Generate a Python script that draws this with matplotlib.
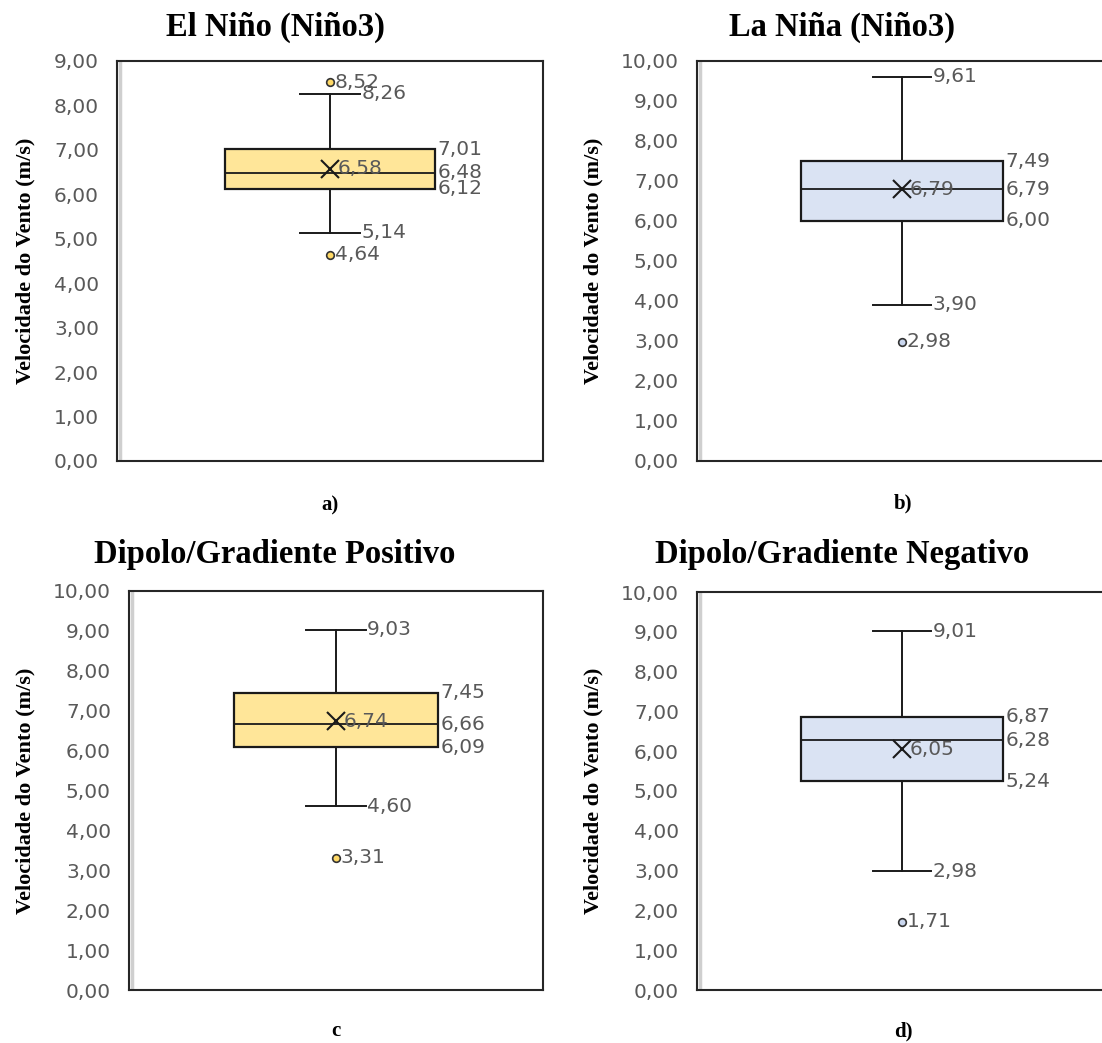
import matplotlib
matplotlib.use("Agg")
import matplotlib.pyplot as plt
from matplotlib.transforms import offset_copy
from matplotlib.ticker import MultipleLocator, FuncFormatter

# Wind-speed statistics (m/s) for each climate regime
titles = ["El Niño (Niño3)", "La Niña (Niño3)",
          "Dipolo/Gradiente Positivo", "Dipolo/Gradiente Negativo"]
panel_tags = ["a)", "b)", "c", "d)"]

whisker_low = [5.14, 3.90, 4.60, 2.98]
quartile_1 = [6.12, 6.00, 6.09, 5.24]
medians = [6.48, 6.79, 6.66, 6.28]
means = [6.58, 6.79, 6.74, 6.05]
quartile_3 = [7.01, 7.49, 7.45, 6.87]
whisker_high = [8.26, 9.61, 9.03, 9.01]
outliers = [[8.52, 4.64], [2.98], [3.31], [1.71]]

y_max = [9, 10, 10, 10]

box_fill = ["#FFE699", "#DAE3F3", "#FFE699", "#DAE3F3"]
flier_fill = ["#FFD966", "#C9D6EE", "#FFD966", "#C9D6EE"]

GREY = "#595959"
W, H = 1102, 1043

# axes rectangles in pixels: left, top, right, bottom
rects_px = [(117, 61, 543, 461), (697, 61, 1107, 461),
            (129, 591, 543, 990), (697, 592, 1107, 990)]
title_px = [(275, 27), (842, 27), (275, 555), (842, 555)]
ylabel_px = [25, 593, 25, 593]
tag_px = [(330, 505), (903, 503), (336, 1031), (903, 1031)]

SERIF = "Liberation Serif"
SANS = "DejaVu Sans"

fig = plt.figure(figsize=(W / 100, H / 100), dpi=100)
fig.patch.set_facecolor("white")


def fmt(v):
    return f"{v:.2f}".replace(".", ",")


box_w = 0.493
cap_w = 0.143

for i in range(4):
    l, t, r, b = rects_px[i]
    ax = fig.add_axes([l / W, 1 - b / H, (r - l) / W, (b - t) / H])
    ax.set_xlim(0, 1)
    ax.set_ylim(0, y_max[i])

    stats = [{
        "whislo": whisker_low[i], "q1": quartile_1[i], "med": medians[i],
        "mean": means[i], "q3": quartile_3[i], "whishi": whisker_high[i],
        "fliers": outliers[i],
    }]
    ax.bxp(stats, positions=[0.5], widths=box_w, capwidths=cap_w,
           patch_artist=True, showmeans=True,
           boxprops=dict(facecolor=box_fill[i], edgecolor="#1a1a1a", linewidth=1.6),
           medianprops=dict(color="#1a1a1a", linewidth=1.3),
           whiskerprops=dict(color="#1a1a1a", linewidth=1.4),
           capprops=dict(color="#1a1a1a", linewidth=1.4),
           meanprops=dict(marker="x", markersize=12.5, markeredgecolor="#1a1a1a",
                          markeredgewidth=1.5),
           flierprops=dict(marker="o", markersize=5.5, markerfacecolor=flier_fill[i],
                           markeredgecolor="#333333", markeredgewidth=1.2))

    # value labels
    lab_kw = dict(textcoords="offset points", ha="left", va="center",
                  fontsize=14.5, color=GREY, family=SANS)
    for v in (whisker_low[i], whisker_high[i]):
        ax.annotate(fmt(v), xy=(0.5 + cap_w / 2, v), xytext=(1, 0), **lab_kw)
    for v in (quartile_1[i], medians[i], quartile_3[i]):
        ax.annotate(fmt(v), xy=(0.5 + box_w / 2, v), xytext=(2, 0), **lab_kw)
    ax.annotate(fmt(means[i]), xy=(0.5, means[i]), xytext=(5.5, 0), **lab_kw)
    for v in outliers[i]:
        ax.annotate(fmt(v), xy=(0.5, v), xytext=(3.5, 0), **lab_kw)

    ax.yaxis.set_major_locator(MultipleLocator(1))
    ax.yaxis.set_major_formatter(FuncFormatter(lambda v, p: fmt(v)))
    ax.set_xticks([])
    ax.tick_params(axis="y", length=0, pad=13, labelsize=14.5, labelcolor=GREY)
    for lbl in ax.get_yticklabels():
        lbl.set_family(SANS)
    for s in ax.spines.values():
        s.set_color("#262626")
        s.set_linewidth(1.5)

    # faint shading just inside the left spine
    shade_tr = offset_copy(ax.transAxes, fig=fig, x=2.5, y=0, units="dots")
    ax.plot([0, 0], [0.004, 0.996], transform=shade_tr, color="#cfcfcf",
            linewidth=2.5, clip_on=False, zorder=0.5)

    tx, ty = title_px[i]
    fig.text(tx / W, 1 - ty / H, titles[i], ha="center", va="center",
             fontsize=23.5, fontweight="bold", family=SERIF, color="black")
    fig.text(ylabel_px[i] / W, 1 - ((t + b) / 2) / H, "Velocidade do Vento (m/s)",
             ha="center", va="center", rotation=90, fontsize=16,
             fontweight="bold", family=SERIF, color="black")
    gx, gy = tag_px[i]
    fig.text(gx / W, 1 - gy / H, panel_tags[i], ha="center", va="center",
             fontsize=15, fontweight="bold", family=SERIF, color="black")

fig.savefig("out.png", dpi=100, facecolor="white")
